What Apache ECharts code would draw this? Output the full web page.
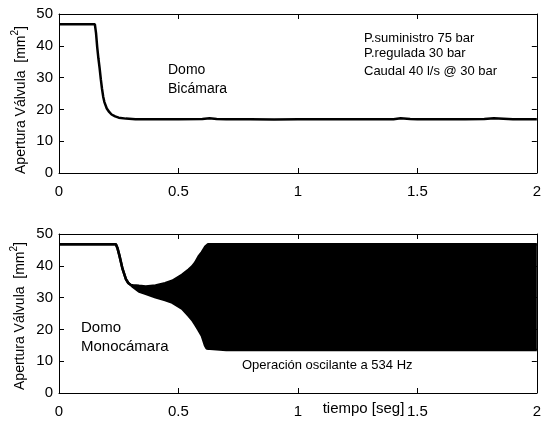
<!DOCTYPE html>
<html>
<head>
<meta charset="utf-8">
<script src="https://cdn.jsdelivr.net/npm/echarts@6/dist/echarts.min.js"></script>
<style>html,body{margin:0;padding:0;background:#fff}#c{width:544px;height:421px}</style>
</head>
<body>
<div id="c"></div>
<script>
// ---- data ----
var xTicks = [0, 0.5, 1, 1.5, 2];
var yTicks = [0, 10, 20, 30, 40, 50];

// top subplot: Domo Bicámara
var tTop = [0, 0.15, 0.155, 0.16, 0.165, 0.17, 0.175, 0.18, 0.185, 0.19, 0.2, 0.21, 0.22, 0.235, 0.25, 0.28, 0.32, 0.4, 0.5, 0.6, 0.63, 0.66, 0.7, 0.8, 0.9, 1.0, 1.1, 1.2, 1.3, 1.4, 1.43, 1.47, 1.5, 1.6, 1.7, 1.78, 1.82, 1.9, 2.0];
var yTop = [46.8, 46.8, 44.0, 39.5, 36.0, 33.0, 29.5, 26.5, 24.0, 22.3, 20.3, 19.2, 18.4, 17.8, 17.4, 17.1, 16.9, 16.9, 16.9, 17.0, 17.2, 17.0, 16.9, 16.9, 16.8, 16.9, 16.9, 16.9, 16.9, 16.9, 17.2, 17.0, 16.9, 16.9, 16.9, 17.0, 17.2, 16.9, 16.9];

// bottom subplot: Domo Monocámara (oscillation envelope)
var tBot  = [0, 0.238, 0.245, 0.253, 0.266, 0.28, 0.29, 0.30, 0.31, 0.335, 0.363, 0.404, 0.444, 0.474, 0.515, 0.542, 0.557, 0.57, 0.584, 0.598, 0.611, 0.618, 0.624, 0.7, 1.0, 1.5, 2.0];
var upBot = [46.8, 46.8, 45.5, 43.2, 39.0, 35.8, 34.6, 34.0, 33.9, 33.7, 33.5, 33.8, 34.5, 35.3, 37.2, 38.8, 39.8, 41.0, 42.9, 44.3, 45.9, 46.5, 46.8, 46.8, 46.8, 46.8, 46.8];
var loBot = [46.8, 46.8, 45.5, 43.2, 39.0, 35.8, 34.6, 34.0, 33.3, 31.9, 31.2, 30.1, 29.2, 28.4, 26.5, 24.3, 23.0, 21.5, 19.8, 18.0, 15.0, 14.0, 13.5, 13.5, 13.5, 13.5, 13.5];

// ---- chart ----
var FONT = '"Liberation Sans", Arial, Helvetica, sans-serif';
function pairs(t, v) { return t.map(function (x, i) { return [x, v[i]]; }); }

var grids = [
  { left: 59, width: 483, top: 14, height: 159 },
  { left: 59, width: 483, top: 234, height: 159 }
];

function xAx(g, pos, labels) {
  return {
    type: 'value', gridIndex: g, position: pos, min: 0, max: 2, interval: 0.5,
    axisLine: { show: true, onZero: false, lineStyle: { color: '#000', width: 1 } },
    axisTick: { show: true, inside: true, length: 5, lineStyle: { color: '#000' } },
    axisLabel: { show: labels, color: '#000', fontSize: 15, fontFamily: FONT, margin: 11 },
    splitLine: { show: false }
  };
}
function yAx(g, pos, labels) {
  return {
    type: 'value', gridIndex: g, position: pos, min: 0, max: 50, interval: 10,
    axisLine: { show: true, onZero: false, lineStyle: { color: '#000', width: 1 } },
    axisTick: { show: true, inside: true, length: 5, lineStyle: { color: '#000' } },
    axisLabel: { show: labels, color: '#000', fontSize: 15, fontFamily: FONT, margin: 6 },
    splitLine: { show: false }
  };
}

function txt(x, y, s, size, align) {
  return {
    type: 'text', x: x, y: y, z: 100,
    style: { text: s, font: size + 'px ' + FONT, fill: '#000', textAlign: align || 'left', align: align || 'left', textVerticalAlign: 'middle', verticalAlign: 'middle' }
  };
}
function yName(x, y) {
  return {
    type: 'text', x: x, y: y, rotation: Math.PI / 2, z: 100,
    style: {
      text: '{a|Apertura Válvula  [mm}{s|2}{a|]}',
      textAlign: 'center', align: 'center', textVerticalAlign: 'middle', verticalAlign: 'middle',
      fill: '#000',
      rich: {
        a: { fontSize: 14, fontFamily: FONT, fill: '#000', color: '#000', lineHeight: 22 },
        s: { fontSize: 10, fontFamily: FONT, fill: '#000', color: '#000', lineHeight: 10, verticalAlign: 'top' }
      }
    }
  };
}

// filled band between upper and lower envelopes (through the axis scales)
function renderBand(params, api) {
  if (params.dataIndex !== 0) return null;
  var pts = [];
  for (var i = 0; i < tBot.length; i++) pts.push(api.coord([tBot[i], upBot[i]]));
  for (var j = tBot.length - 1; j >= 0; j--) pts.push(api.coord([tBot[j], loBot[j]]));
  return { type: 'polygon', shape: { points: pts }, style: { fill: '#000', stroke: null } };
}

var option = {
  animation: false,
  backgroundColor: '#fff',
  grid: grids,
  xAxis: [xAx(0, 'bottom', true), xAx(0, 'top', false), xAx(1, 'bottom', true), xAx(1, 'top', false)],
  yAxis: [yAx(0, 'left', true), yAx(0, 'right', false), yAx(1, 'left', true), yAx(1, 'right', false)],
  series: [
    {
      type: 'line', xAxisIndex: 0, yAxisIndex: 0, data: pairs(tTop, yTop),
      showSymbol: false, symbol: 'none', smooth: false,
      lineStyle: { color: '#000', width: 2.5 }
    },
    {
      type: 'custom', xAxisIndex: 2, yAxisIndex: 2, renderItem: renderBand,
      data: tBot.map(function (t, i) { return [t, upBot[i], loBot[i]]; }),
      encode: { x: 0, y: [1, 2] }
    },
    {
      type: 'line', xAxisIndex: 2, yAxisIndex: 2, data: pairs(tBot, upBot),
      showSymbol: false, symbol: 'none',
      lineStyle: { color: '#000', width: 2.5 }
    },
    {
      type: 'line', xAxisIndex: 2, yAxisIndex: 2, data: pairs(tBot, loBot),
      showSymbol: false, symbol: 'none',
      lineStyle: { color: '#000', width: 2.5 }
    }
  ],
  graphic: [
    yName(21, 100),
    yName(20, 316),
    txt(168, 70, 'Domo', 14),
    txt(168, 89, 'Bicámara', 14),
    txt(364, 38, 'P.suministro 75 bar', 13),
    txt(364, 53, 'P.regulada 30 bar', 13),
    txt(364, 71, 'Caudal 40 l/s @ 30 bar', 13),
    txt(81, 328, 'Domo', 15),
    txt(81, 347, 'Monocámara', 15),
    txt(242, 365, 'Operación oscilante a 534 Hz', 13),
    txt(363.5, 409, 'tiempo [seg]', 15, 'center')
  ]
};

var chart = echarts.init(document.getElementById('c'), null, { renderer: 'canvas' });
chart.setOption(option);
</script>
</body>
</html>
